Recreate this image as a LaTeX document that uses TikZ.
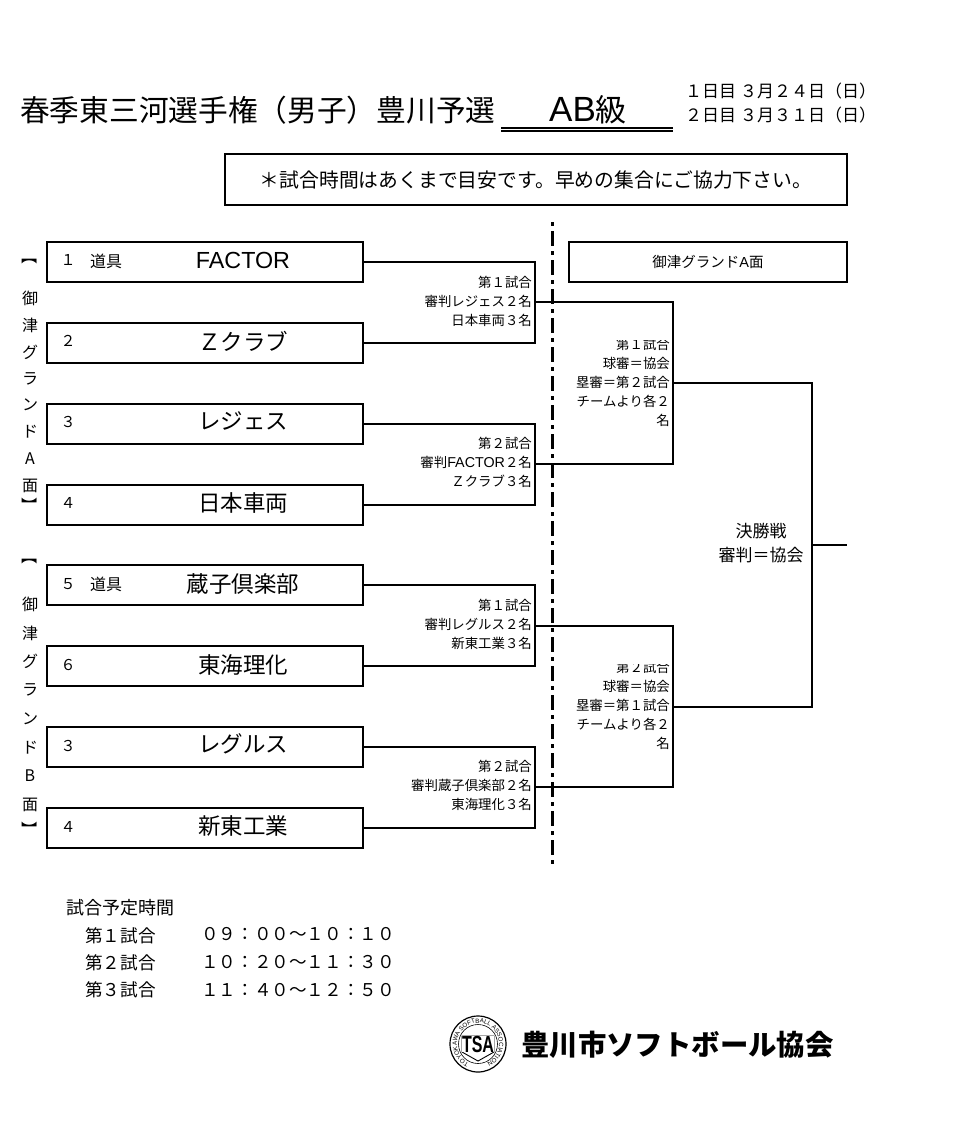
\documentclass[tikz,border=0pt]{standalone}
\usepackage{fontspec}
\setmainfont{Noto Sans CJK JP}
\newfontfamily\latinfont{Liberation Sans}
\usepackage{tikz}
\usetikzlibrary{decorations.text}
\tikzset{
  teambox/.style={draw,line width=1.5pt,minimum width=316pt,minimum height=40pt,inner sep=0pt,outer sep=0pt},
  framebox/.style={draw,line width=1.5pt,inner sep=0pt,outer sep=0pt},
  teamname/.style={font=\fontsize{22.5}{24}\selectfont,inner sep=0pt},
  teamno/.style={font=\fontsize{15}{17}\selectfont,inner sep=0pt},
  toolmark/.style={font=\fontsize{16}{17}\selectfont,inner sep=0pt},
  sidechar/.style={font=\fontsize{16}{17}\selectfont,inner sep=0pt},
  sidebracket/.style={font=\fontsize{16}{17}\selectfont,inner sep=0pt,rotate=-90},
  umpire/.style={font=\fontsize{13.4}{19}\selectfont,inner sep=0pt,align=right,anchor=east},
  schedule/.style={font=\fontsize{17.6}{19}\selectfont,inner sep=0pt,anchor=west},
  bracketline/.style={line width=1.5pt},
}

\begin{document}
\begin{tikzpicture}[x=1pt,y=-1pt]
  \useasboundingbox (0,0) rectangle (954,1132);

  \newcommand\Xbox{205}
  \newcommand\Xno{68}
  \newcommand\Xname{243}
  \newcommand\Xgame{532}

  % title
  \node[inner sep=0pt,anchor=west,font=\fontsize{29.7}{31}\selectfont] (title) at (20,110) {春季東三河選手権（男子）豊川予選};
  \node[inner sep=0pt,minimum width=172pt] (grade) at (588,110) {{\latinfont\fontsize{35}{36}\selectfont AB}{\fontsize{31}{36}\selectfont 級}};
  \coordinate (gradeL) at (501,129.5);
  \coordinate (gradeR) at (673,129.5);
  \draw[double,line width=1.2pt,double distance=1.8pt] (gradeL) -- (gradeR);
  \node[inner sep=0pt,anchor=west,font=\fontsize{17}{18}\selectfont] (dayone) at (685,91) {１日目 ３月２４日（日）};
  \node[inner sep=0pt,anchor=west,font=\fontsize{17}{18}\selectfont] (daytwo) at (685,115) {２日目 ３月３１日（日）};
  \node[framebox,minimum width=622pt,minimum height=51pt,font=\fontsize{19.8}{21}\selectfont] (notice) at (536,179.5) {＊試合時間はあくまで目安です。早めの集合にご協力下さい。};

  % teams
  \node[teambox] (teamA) at (\Xbox,262) {};
  \node[teambox] (teamB) at (\Xbox,343) {};
  \node[teambox] (teamC) at (\Xbox,424) {};
  \node[teambox] (teamD) at (\Xbox,505) {};
  \node[teambox] (teamE) at (\Xbox,585) {};
  \node[teambox] (teamF) at (\Xbox,666) {};
  \node[teambox] (teamG) at (\Xbox,747) {};
  \node[teambox] (teamH) at (\Xbox,828) {};

  \node[teamname,font=\latinfont\fontsize{23.3}{24}\selectfont] (nameA) at (\Xname,260) {FACTOR};
  \node[teamname] (nameB) at (\Xname,341) {Ｚクラブ};
  \node[teamname] (nameC) at (\Xname,421) {レジェス};
  \node[teamname] (nameD) at (\Xname,503) {日本車両};
  \node[teamname] (nameE) at (\Xname,584) {蔵子倶楽部};
  \node[teamname] (nameF) at (\Xname,665) {東海理化};
  \node[teamname] (nameG) at (\Xname,744) {レグルス};
  \node[teamname] (nameH) at (\Xname,826) {新東工業};

  \node[teamno] (noA) at (\Xno,260) {１};
  \node[teamno] (noB) at (\Xno,341) {２};
  \node[teamno] (noC) at (\Xno,422) {３};
  \node[teamno] (noD) at (\Xno,503) {４};
  \node[teamno] (noE) at (\Xno,584) {５};
  \node[teamno] (noF) at (\Xno,665) {６};
  \node[teamno] (noG) at (\Xno,746) {３};
  \node[teamno] (noH) at (\Xno,827) {４};
  \node[toolmark] (toolA) at (106,261) {道具};
  \node[toolmark] (toolE) at (106,584) {道具};

  % side labels
  \node[sidebracket] (openA) at (30,256) {【};
  \node[sidechar] (sideA1) at (30,298) {御};
  \node[sidechar] (sideA2) at (30,325) {津};
  \node[sidechar] (sideA3) at (30,352) {グ};
  \node[sidechar] (sideA4) at (30,379) {ラ};
  \node[sidechar] (sideA5) at (30,405) {ン};
  \node[sidechar] (sideA6) at (30,432) {ド};
  \node[sidechar] (sideA7) at (30,459) {A};
  \node[sidechar] (sideA8) at (30,486) {面};
  \node[sidebracket] (closeA) at (30,505) {】};
  \node[sidebracket] (openB) at (30,556) {【};
  \node[sidechar] (sideB1) at (30,604) {御};
  \node[sidechar] (sideB2) at (30,633) {津};
  \node[sidechar] (sideB3) at (30,661) {グ};
  \node[sidechar] (sideB4) at (30,690) {ラ};
  \node[sidechar] (sideB5) at (30,719) {ン};
  \node[sidechar] (sideB6) at (30,748) {ド};
  \node[sidechar] (sideB7) at (30,776) {B};
  \node[sidechar] (sideB8) at (30,805) {面};
  \node[sidebracket] (closeB) at (30,829) {】};

  % divider
  \coordinate (divtop) at (552,222);
  \coordinate (divbot) at (552,865);
  \draw[line width=3pt,dash pattern=on 4pt off 5pt on 15pt off 5pt] (divtop) -- (divbot);

  \node[framebox,minimum width=278pt,minimum height=40pt,font=\fontsize{14.5}{15}\selectfont] (court) at (708,262) {御津グランド{\latinfont A}面};

  % bracket
  \coordinate (gameA) at (535,302);
  \coordinate (gameB) at (535,464);
  \coordinate (gameC) at (535,626);
  \coordinate (gameD) at (535,787);
  \coordinate (semiA) at (673,383);
  \coordinate (semiB) at (673,707);
  \coordinate (finalx) at (812,545);
  \coordinate (finalend) at (847,545);

  \draw[bracketline] (teamA.east) -| (gameA) |- (teamB.east); %% A-B
  \draw[bracketline] (teamC.east) -| (gameB) |- (teamD.east); %% C-D
  \draw[bracketline] (teamE.east) -| (gameC) |- (teamF.east); %% E-F
  \draw[bracketline] (teamG.east) -| (gameD) |- (teamH.east); %% G-H
  \draw[bracketline] (gameA) -| (semiA) |- (gameB);
  \draw[bracketline] (gameC) -| (semiB) |- (gameD);
  \draw[bracketline] (semiA) -| (finalx) |- (semiB);
  \draw[bracketline] (finalx) -- (finalend);

  % referees
  \node[umpire] (refA) at (\Xgame,301) {第１試合\\審判レジェス２名\\日本車両３名};
  \node[umpire] (refB) at (\Xgame,462) {第２試合\\審判{\latinfont\fontsize{14.3}{19}\selectfont FACTOR}２名\\Ｚクラブ３名};
  \node[umpire] (refC) at (\Xgame,624) {第１試合\\審判レグルス２名\\新東工業３名};
  \node[umpire] (refD) at (\Xgame,785) {第２試合\\審判蔵子倶楽部２名\\東海理化３名};

  \begin{scope}
    \clip (560,340.5) rectangle (672,430);
    \node[umpire] (semiRefA) at (670,382) {第１試合\\球審＝協会\\塁審＝第２試合\\チームより各２\\名};
  \end{scope}
  \begin{scope}
    \clip (560,664) rectangle (672,752);
    \node[umpire] (semiRefB) at (670,705) {第２試合\\球審＝協会\\塁審＝第１試合\\チームより各２\\名};
  \end{scope}

  \node[inner sep=0pt,align=center,font=\fontsize{17}{24}\selectfont] (final) at (761,543) {決勝戦\\審判＝協会};

  % times
  \node[schedule,font=\fontsize{18}{19}\selectfont] (timehead) at (66,908) {試合予定時間};
  \node[schedule] (timeA) at (85,936) {第１試合};
  \node[schedule] (timeB) at (85,963) {第２試合};
  \node[schedule] (timeC) at (85,990) {第３試合};
  \node[schedule] (slotA) at (201,934) {０９：００～１０：１０};
  \node[schedule] (slotB) at (201,962) {１０：２０～１１：３０};
  \node[schedule] (slotC) at (201,990) {１１：４０～１２：５０};

  % logo
  \node[draw,circle,line width=1.2pt,minimum size=56pt,inner sep=0pt] (logo) at (478,1044) {};
  \node[draw,circle,line width=.6pt,minimum size=39pt,inner sep=0pt] (logoin) at (478,1044) {};
  \coordinate (plateA) at (462,1036);
  \coordinate (plateB) at (494,1036);
  \coordinate (plateC) at (494,1052);
  \coordinate (plateD) at (478,1061);
  \coordinate (plateE) at (462,1052);
  \draw[line width=.9pt] (plateA) -- (plateB) -- (plateC) -- (plateD) -- (plateE) -- cycle;
  \node[inner sep=0pt,yscale=1.45,fill=white,font=\latinfont\bfseries\fontsize{16}{16}\selectfont] (logoTSA) at (478,1044) {TSA};
  \path[decorate,decoration={text along path,text align=center,
    text={|\latinfont\fontsize{6.2}{6.2}\selectfont|TOYOKAWA SOFTBALL ASSOCIATION}}]
    (logo) ++(105:21) arc[start angle=105,end angle=435,radius=21];
  \node[inner sep=0pt,anchor=west,font=\bfseries\fontsize{28.4}{30}\selectfont] (assoc) at (521,1045) {豊川市ソフトボール協会};
\end{tikzpicture}
\end{document}
